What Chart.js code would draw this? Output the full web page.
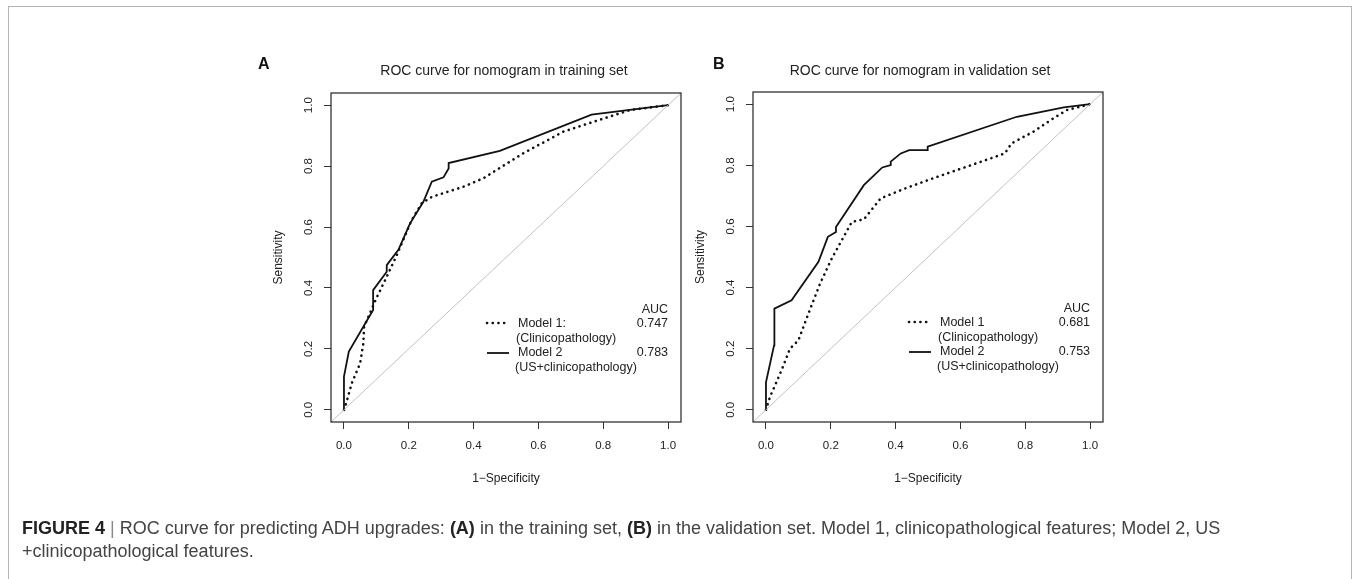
<!DOCTYPE html>
<html lang="en">
<head>
<meta charset="UTF-8">
<title>ROC curve for predicting ADH upgrades</title>
<script src="https://cdn.jsdelivr.net/npm/chart.js@4"></script>
<style>
  html, body { margin: 0; padding: 0; background: #fff; }
  body { width: 1356px; height: 579px; position: relative; overflow: hidden; }
  .frame { position: absolute; left: 8px; top: 6px; width: 1342px; height: 620px;
           border: 1.5px solid #b4b4b4; border-bottom: none; }
  canvas { position: absolute; left: 0; top: 0; }
  .caption { position: absolute; left: 22px; top: 517px; white-space: nowrap;
             font-family: "Liberation Sans", Arial, sans-serif; font-size: 18px; line-height: 23px; color: #444; }
  .caption b { color: #222; }
  .caption .sep { color: #888; }
</style>
</head>
<body>
<div class="frame"></div>
<canvas id="rocA" width="1356" height="579"></canvas>
<canvas id="rocB" width="1356" height="579"></canvas>
<div class="caption">
  <b>FIGURE 4</b> <span class="sep">|</span> ROC curve for predicting ADH upgrades: <b>(A)</b> in the training set, <b>(B)</b> in the validation set. Model 1, clinicopathological features; Model 2, US<br>
  +clinicopathological features.
</div>

<script>
// axis setup (R style: 4% extension beyond 0..1)
const tickValues = [0, 0.2, 0.4, 0.6, 0.8, 1.0];
const axisLimits = [-0.04, 1.04];

// A: training set
const trainM1Fpr = [0, 0.007, 0.024, 0.05, 0.06, 0.062, 0.08, 0.10, 0.132, 0.163, 0.209, 0.24, 0.271, 0.368, 0.43, 0.553, 0.677, 0.78, 0.883, 1];
const trainM1Tpr = [0, 0.022, 0.087, 0.153, 0.219, 0.273, 0.317, 0.366, 0.437, 0.508, 0.623, 0.678, 0.699, 0.732, 0.76, 0.842, 0.913, 0.949, 0.984, 1];
const trainM2Fpr = [0, 0, 0.015, 0.09, 0.09, 0.132, 0.132, 0.168, 0.204, 0.245, 0.271, 0.307, 0.323, 0.323, 0.481, 0.764, 1];
const trainM2Tpr = [0, 0.109, 0.191, 0.328, 0.393, 0.453, 0.475, 0.525, 0.612, 0.683, 0.749, 0.763, 0.792, 0.81, 0.85, 0.969, 1];

// B: validation set
const validM1Fpr = [0, 0.012, 0.048, 0.074, 0.10, 0.131, 0.167, 0.203, 0.234, 0.265, 0.302, 0.354, 0.431, 0.514, 0.618, 0.737, 0.758, 0.825, 0.887, 0.929, 1];
const validM1Tpr = [0, 0.041, 0.129, 0.20, 0.227, 0.315, 0.413, 0.495, 0.555, 0.615, 0.623, 0.692, 0.725, 0.757, 0.795, 0.839, 0.872, 0.91, 0.954, 0.981, 1];
const validM2Fpr = [0, 0, 0.025, 0.026, 0.026, 0.079, 0.162, 0.191, 0.216, 0.216, 0.302, 0.359, 0.385, 0.385, 0.416, 0.442, 0.499, 0.499, 0.774, 0.919, 1];
const validM2Tpr = [0, 0.09, 0.211, 0.309, 0.331, 0.358, 0.484, 0.566, 0.582, 0.598, 0.735, 0.793, 0.801, 0.812, 0.839, 0.85, 0.85, 0.861, 0.959, 0.99, 1];

const panelLetters = ['A', 'B'];
const panelTitles = ['ROC curve for nomogram in training set', 'ROC curve for nomogram in validation set'];
const model1Names = ['Model 1:', 'Model 1'];
const model2Name = 'Model 2';
const model1Desc = '(Clinicopathology)';
const model2Desc = '(US+clinicopathology)';
const aucHeader = 'AUC';
const aucTrain = ['0.747', '0.783'];
const aucValid = ['0.681', '0.753'];
const xTitle = '1\u2212Specificity';
const yTitle = 'Sensitivity';

const FONT = '"Liberation Sans", Arial, sans-serif';
const Y_W = 60;   // fixed y-axis box width
const X_H = 64;   // fixed x-axis box height

function pts(xs, ys) {
  return xs.map((x, i) => ({ x: x, y: ys[i] }));
}

// box, panel letter, title and legend in R base-graphics style
const rDecor = {
  id: 'rDecor',
  afterDraw(chart, args, o) {
    const ctx = chart.ctx;
    const a = chart.chartArea;
    ctx.save();
    ctx.strokeStyle = '#333';
    ctx.lineWidth = 1.3;
    ctx.strokeRect(a.left, a.top, a.right - a.left, a.bottom - a.top);

    ctx.fillStyle = '#111';
    ctx.textBaseline = 'alphabetic';
    ctx.font = 'bold 16px ' + FONT;
    ctx.textAlign = 'left';
    ctx.fillText(o.letter, o.letterX, 69);

    ctx.fillStyle = '#222';
    ctx.font = '14px ' + FONT;
    ctx.textAlign = 'center';
    ctx.fillText(o.title, o.titleX, 75);

    // legend
    const lx = a.left + 187;
    const rx = chart.scales.x.getPixelForValue(1);
    const y0 = a.top;
    ctx.font = '12.5px ' + FONT;
    ctx.textBaseline = 'middle';
    ctx.textAlign = 'right';
    ctx.fillText(aucHeader, rx, y0 + 217);
    ctx.fillText(o.auc[0], rx, y0 + 231);
    ctx.fillText(o.auc[1], rx, y0 + 260);
    ctx.textAlign = 'left';
    ctx.fillText(o.m1, lx, y0 + 231);
    ctx.fillText(model1Desc, lx - 2, y0 + 246);
    ctx.fillText(model2Name, lx, y0 + 260);
    ctx.fillText(model2Desc, lx - 3, y0 + 275);

    ctx.strokeStyle = '#111';
    ctx.lineCap = 'round';
    ctx.lineWidth = 2.6;
    ctx.setLineDash([0.1, 5.6]);
    ctx.beginPath();
    ctx.moveTo(a.left + 156, y0 + 230);
    ctx.lineTo(a.left + 178, y0 + 230);
    ctx.stroke();
    ctx.setLineDash([]);
    ctx.lineCap = 'butt';
    ctx.lineWidth = 1.8;
    ctx.beginPath();
    ctx.moveTo(a.left + 156, y0 + 260);
    ctx.lineTo(a.left + 178, y0 + 260);
    ctx.stroke();
    ctx.restore();
  }
};

function makePanel(id, area, m1, m2, deco) {
  const diag = pts(axisLimits, axisLimits);
  return new Chart(document.getElementById(id), {
    type: 'scatter',
    data: {
      datasets: [
        { data: diag, showLine: true, pointRadius: 0, borderColor: '#c2c2c2', borderWidth: 1 },
        { data: m1, showLine: true, pointRadius: 0, borderColor: '#111', borderWidth: 2.6,
          borderDash: [0.1, 5.6], borderCapStyle: 'round', tension: 0 },
        { data: m2, showLine: true, pointRadius: 0, borderColor: '#111', borderWidth: 1.8, tension: 0 }
      ]
    },
    options: {
      responsive: false,
      animation: false,
      events: [],
      layout: { padding: { left: area.left - Y_W, right: 1356 - area.right, top: area.top, bottom: 579 - area.bottom - X_H } },
      plugins: { legend: { display: false }, tooltip: { enabled: false }, rDecor: deco },
      scales: {
        x: {
          type: 'linear', min: axisLimits[0], max: axisLimits[1],
          afterBuildTicks: s => { s.ticks = tickValues.map(v => ({ value: v })); },
          afterFit: s => { s.height = X_H; },
          border: { display: false },
          grid: { display: true, drawOnChartArea: false, drawTicks: true, tickLength: 7, color: '#333', lineWidth: 1 },
          ticks: { autoSkip: false, maxRotation: 0, padding: 10, color: '#222',
                   font: { family: FONT, size: 11.5 }, callback: v => v.toFixed(1) },
          title: { display: true, text: xTitle, color: '#222', padding: 0, font: { family: FONT, size: 12 } }
        },
        y: {
          type: 'linear', min: axisLimits[0], max: axisLimits[1],
          afterBuildTicks: s => { s.ticks = tickValues.map(v => ({ value: v })); },
          afterFit: s => { s.width = Y_W; },
          border: { display: false },
          grid: { display: true, drawOnChartArea: false, drawTicks: true, tickLength: 7, color: '#333', lineWidth: 1 },
          ticks: { autoSkip: false, minRotation: 90, maxRotation: 90, crossAlign: 'center', padding: 7, color: '#222',
                   font: { family: FONT, size: 11.5 }, callback: v => v.toFixed(1) },
          title: { display: true, text: yTitle, color: '#222', padding: 0, font: { family: FONT, size: 12 } }
        }
      }
    },
    plugins: [rDecor]
  });
}

makePanel('rocA', { left: 331, right: 681, top: 93, bottom: 422 },
  pts(trainM1Fpr, trainM1Tpr), pts(trainM2Fpr, trainM2Tpr),
  { letter: panelLetters[0], letterX: 258, title: panelTitles[0], titleX: 504, m1: model1Names[0], auc: aucTrain });

makePanel('rocB', { left: 753, right: 1103, top: 92, bottom: 422 },
  pts(validM1Fpr, validM1Tpr), pts(validM2Fpr, validM2Tpr),
  { letter: panelLetters[1], letterX: 713, title: panelTitles[1], titleX: 920, m1: model1Names[1], auc: aucValid });
</script>
</body>
</html>
